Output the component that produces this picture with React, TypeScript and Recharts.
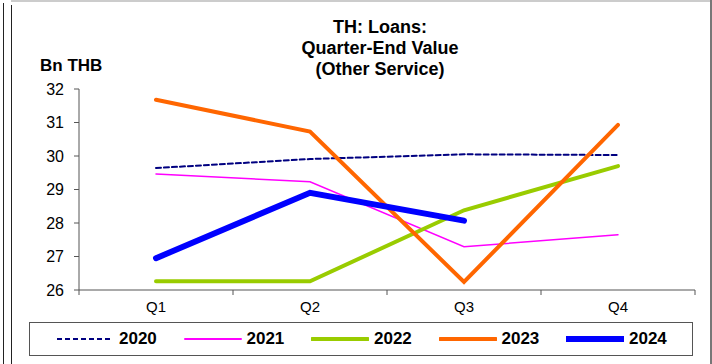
import React from "react";
import { LineChart, Line, XAxis, YAxis, Legend } from "recharts";

const quarters = ["Q1", "Q2", "Q3", "Q4"];
const s2020 = [29.64, 29.91, 30.05, 30.03];
const s2021 = [29.46, 29.23, 27.29, 27.65];
const s2022 = [26.26, 26.26, 28.38, 29.7];
const s2023 = [31.68, 30.73, 26.24, 30.93];
const s2024 = [26.95, 28.9, 28.07, null];
const yTicks = [26, 27, 28, 29, 30, 31, 32];

const data = quarters.map((q, i) => ({
  q,
  y2020: s2020[i],
  y2021: s2021[i],
  y2022: s2022[i],
  y2023: s2023[i],
  y2024: s2024[i],
}));

const series = [
  { key: "y2020", name: "2020", color: "#000080", width: 2, dash: "5 3" },
  { key: "y2021", name: "2021", color: "#FF00FF", width: 1.5, dash: undefined },
  { key: "y2022", name: "2022", color: "#99CC00", width: 4, dash: undefined },
  { key: "y2023", name: "2023", color: "#FF6600", width: 4, dash: undefined },
  { key: "y2024", name: "2024", color: "#0000FF", width: 6, dash: undefined },
];

const FONT = "'Liberation Sans', Arial, sans-serif";

const XTick = (props: any) => {
  const { x, y, payload, index } = props;
  const half = 77;
  return (
    <g>
      <line x1={x - half} y1={y - 8} x2={x - half} y2={y - 3} stroke="#555" />
      {index === quarters.length - 1 && (
        <line x1={x + half} y1={y - 8} x2={x + half} y2={y - 3} stroke="#555" />
      )}
      <text x={x} y={y + 14} textAnchor="middle" fontSize={15} fontFamily={FONT} fill="#000">
        {payload.value}
      </text>
    </g>
  );
};

const LegendBox = () => (
  <div
    style={{
      width: 664,
      height: 34,
      border: "1.5px solid #555",
      display: "flex",
      alignItems: "center",
      fontFamily: FONT,
      fontWeight: "bold",
      fontSize: 17,
      boxSizing: "border-box",
      paddingLeft: 26,
    }}
  >
    {series.map((s) => (
      <div key={s.key} style={{ display: "flex", alignItems: "center", width: 127.5, flex: "none" }}>
        <svg width={58} height={10}>
          <line
            x1={1}
            y1={5}
            x2={57}
            y2={5}
            stroke={s.color}
            strokeWidth={s.width === 1.5 ? 2 : s.width}
            strokeDasharray={s.dash}
            strokeLinecap={s.dash ? "butt" : "round"}
          />
        </svg>
        <span style={{ marginLeft: 5 }}>{s.name}</span>
      </div>
    ))}
  </div>
);

export default function App() {
  return (
    <div style={{ position: "absolute", left: 0, top: 0, width: 712, height: 364, background: "#fff", overflow: "hidden" }}>
      <div style={{ position: "absolute", left: 3, top: 3, width: 1, height: 361, background: "#222" }} />
      <div style={{ position: "absolute", left: 11, top: 0, width: 701, height: 2, background: "#ccc" }} />
      <div style={{ position: "absolute", left: 11, top: 5, width: 1, height: 359, background: "#222" }} />
      <div style={{ position: "absolute", left: 710, top: 0, width: 2, height: 364, background: "#777" }} />
      <div
        style={{
          position: "absolute",
          left: 260,
          top: 17,
          width: 240,
          textAlign: "center",
          fontFamily: FONT,
          fontWeight: "bold",
          fontSize: 18,
          lineHeight: "21px",
        }}
      >
        TH: Loans:
        <br />
        Quarter-End Value
        <br />
        (Other Service)
      </div>
      <div
        style={{
          position: "absolute",
          left: 40,
          top: 56,
          fontFamily: FONT,
          fontWeight: "bold",
          fontSize: 17,
        }}
      >
        Bn THB
      </div>
      <LineChart
        width={712}
        height={364}
        data={data}
        margin={{ top: 89, right: 17, bottom: 8, left: 39 }}
        style={{ position: "absolute", left: 0, top: 0 }}
      >
        <XAxis
          dataKey="q"
          scale="band"
          axisLine={{ stroke: "#555", strokeWidth: 1 }}
          tickLine={false}
          tick={<XTick />}
          height={30}
          interval={0}
        />
        <YAxis
          domain={[26, 32]}
          ticks={yTicks}
          width={40}
          axisLine={{ stroke: "#555", strokeWidth: 1 }}
          tickLine={{ stroke: "#555" }}
          tickSize={5}
          tickMargin={10}
          tick={{ fontSize: 16, fontFamily: FONT, fill: "#000" }}
          interval={0}
        />
        <Legend
          verticalAlign="bottom"
          height={36}
          content={<LegendBox />}
          wrapperStyle={{ left: 29, bottom: 6, width: 664 }}
        />
        {series.map((s) => (
          <Line
            key={s.key}
            dataKey={s.key}
            name={s.name}
            stroke={s.color}
            strokeWidth={s.width}
            strokeDasharray={s.dash}
            dot={false}
            activeDot={false}
            isAnimationActive={false}
            type="linear"
            strokeLinecap="round"
          />
        ))}
      </LineChart>
    </div>
  );
}
